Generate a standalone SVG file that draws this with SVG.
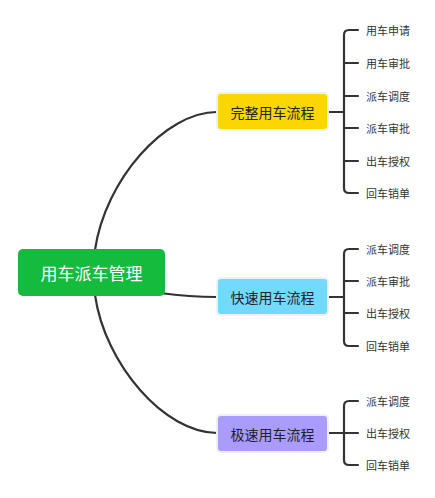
<svg xmlns="http://www.w3.org/2000/svg" width="435" height="498" viewBox="0 0 435 498">
<style>
.c{fill:none;stroke:#333;stroke-width:2.2;stroke-linecap:round}
.b{fill:none;stroke:#333;stroke-width:2.2;stroke-linecap:round;stroke-linejoin:round}
.t{font-family:"Noto Sans CJK SC","Noto Sans",sans-serif;text-anchor:middle;dominant-baseline:central}
.m{font-size:14px;fill:#222}
.l{font-family:"Noto Sans CJK SC","Noto Sans",sans-serif;font-size:11px;fill:#333;dominant-baseline:central}
.box{stroke:#f0f0f0;stroke-width:2}
</style>
<rect width="435" height="498" fill="#fff"/>
<g id="connectors">
<path class="c" d="M95,250 C105,180 165,112 217,112"/>
<path class="c" d="M160,293 Q190,297 217,297"/>
<path class="c" d="M95,295 C105,365 165,433 217,433"/>
<path class="b" d="M329,112 H344"/>
<path class="b" d="M358,30 H349 Q344,30 344,35 V188 Q344,193 349,193 H358"/>
<path class="b" d="M344,63 H358 M344,96 H358 M344,128 H358 M344,161 H358"/>
<path class="b" d="M329,297 H344"/>
<path class="b" d="M358,249 H349 Q344,249 344,254 V341 Q344,346 349,346 H358"/>
<path class="b" d="M344,281 H358 M344,313 H358"/>
<path class="b" d="M329,433 H344"/>
<path class="b" d="M358,401 H349 Q344,401 344,406 V460 Q344,465 349,465 H358"/>
<path class="b" d="M344,433 H358"/>
</g>
<g id="root">
<rect x="18" y="249" width="147" height="47" rx="5" fill="#14bb3c"/>
<text class="t" x="91.5" y="272.5" font-size="17" fill="#fff">用车派车管理</text>
</g>
<g id="full">
<rect class="box" x="217" y="93" width="111" height="37" rx="4" fill="#fcd600"/>
<text class="t m" x="272.5" y="111.5">完整用车流程</text>
</g>
<g id="fast">
<rect class="box" x="217" y="278" width="111" height="37" rx="4" fill="#72d9ff"/>
<text class="t m" x="272.5" y="296.5">快速用车流程</text>
</g>
<g id="express">
<rect class="box" x="217" y="415" width="111" height="37" rx="4" fill="#aa9cff"/>
<text class="t m" x="272.5" y="433.5">极速用车流程</text>
</g>
<g id="leaves-full">
<text class="l" x="366" y="30">用车申请</text>
<text class="l" x="366" y="63">用车审批</text>
<text class="l" x="366" y="96">派车调度</text>
<text class="l" x="366" y="128">派车审批</text>
<text class="l" x="366" y="161">出车授权</text>
<text class="l" x="366" y="193">回车销单</text>
</g>
<g id="leaves-fast">
<text class="l" x="366" y="249">派车调度</text>
<text class="l" x="366" y="281">派车审批</text>
<text class="l" x="366" y="313">出车授权</text>
<text class="l" x="366" y="346">回车销单</text>
</g>
<g id="leaves-express">
<text class="l" x="366" y="401">派车调度</text>
<text class="l" x="366" y="433">出车授权</text>
<text class="l" x="366" y="465">回车销单</text>
</g>
</svg>
